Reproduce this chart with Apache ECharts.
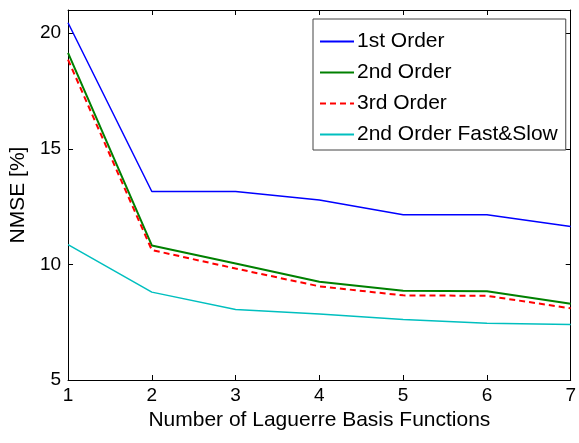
<!DOCTYPE html>
<html>
<head>
<meta charset="utf-8">
<script src="https://cdn.jsdelivr.net/npm/echarts@6/dist/echarts.min.js"></script>
<style>
  html, body { margin: 0; padding: 0; background: #fff; }
  #chart-container { width: 579px; height: 443px; }
</style>
</head>
<body>
<div id="chart-container"></div>
<script>
// number of Laguerre basis functions
const basisCounts = [1, 2, 3, 4, 5, 6, 7];
// NMSE [%] per model
const firstOrder = [20.45, 13.15, 13.15, 12.78, 12.15, 12.15, 11.64];
const secondOrder = [19.15, 10.82, 10.04, 9.25, 8.86, 8.84, 8.3];
const thirdOrder = [18.85, 10.62, 9.82, 9.05, 8.66, 8.64, 8.1];
const fastSlow = [10.85, 8.8, 8.05, 7.85, 7.62, 7.45, 7.4];
const seriesNames = ['1st Order', '2nd Order', '3rd Order', '2nd Order Fast&Slow'];

const FONT = 'Liberation Sans, Arial, sans-serif';

function pairs(vals) {
    return basisCounts.map((x, i) => [x, vals[i]]);
}

function makeLine(name, vals, color, type, width) {
    return {
        name: name,
        type: 'line',
        data: pairs(vals),
        symbol: 'none',
        showSymbol: false,
        animation: false,
        lineStyle: { color: color, width: width, type: type },
        itemStyle: { color: color }
    };
}

const axisLine = { show: true, lineStyle: { color: '#000', width: 1 } };
const tickIn = { show: true, inside: true, length: 5, lineStyle: { color: '#000' } };

const chart = echarts.init(document.getElementById('chart-container'));
chart.setOption({
    animation: false,
    grid: { left: 66, right: 4, top: 10, bottom: 63 },
    legend: {
        orient: 'vertical',
        left: 313,
        top: 19,
        padding: [12, 8, 5, 6],
        itemGap: 10,
        itemWidth: 34,
        itemHeight: 21,
        borderColor: '#444',
        borderWidth: 1,
        backgroundColor: '#fff',
        itemStyle: { opacity: 0 },
        textStyle: { fontSize: 21, color: '#000', fontFamily: FONT, padding: [0, 0, 0, -2] },
        data: seriesNames
    },
    xAxis: [{
        type: 'value',
        min: 1, max: 7, interval: 1,
        name: 'Number of Laguerre Basis Functions',
        nameLocation: 'middle',
        nameGap: 27,
        nameTextStyle: { fontSize: 21, color: '#000', fontFamily: FONT },
        axisLine: axisLine,
        axisTick: tickIn,
        axisLabel: { fontSize: 19, color: '#000', fontFamily: FONT, margin: 6 },
        splitLine: { show: false }
    }, {
        type: 'value', position: 'top',
        min: 1, max: 7, interval: 1,
        axisLine: axisLine, axisTick: tickIn,
        axisLabel: { show: false }, splitLine: { show: false }
    }],
    yAxis: [{
        type: 'value',
        min: 5, max: 21, interval: 5,
        name: 'NMSE [%]',
        nameLocation: 'middle',
        nameGap: 31,
        nameTextStyle: { fontSize: 21, color: '#000', fontFamily: FONT },
        axisLine: axisLine,
        axisTick: tickIn,
        axisLabel: { fontSize: 19, color: '#000', fontFamily: FONT, margin: 7, showMaxLabel: false },
        splitLine: { show: false }
    }, {
        type: 'value', position: 'right',
        min: 5, max: 21, interval: 5,
        axisLine: axisLine, axisTick: tickIn,
        axisLabel: { show: false }, splitLine: { show: false }
    }],
    series: [
        makeLine(seriesNames[0], firstOrder, '#0000ff', 'solid', 1.5),
        makeLine(seriesNames[1], secondOrder, '#008000', 'solid', 2),
        makeLine(seriesNames[2], thirdOrder, '#ff0000', [6, 4], 2),
        makeLine(seriesNames[3], fastSlow, '#00bfbf', 'solid', 1.5)
    ]
});
</script>
</body>
</html>
